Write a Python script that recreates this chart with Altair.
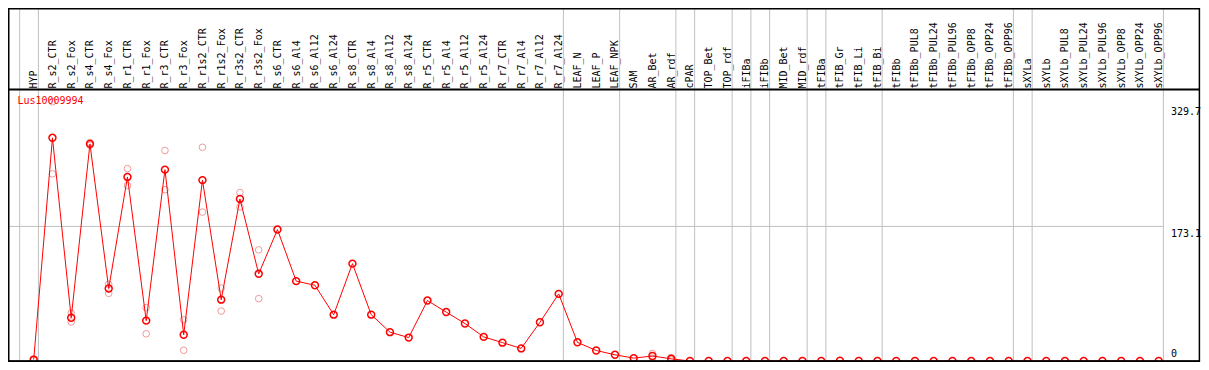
import altair as alt
import pandas as pd

gene = "Lus10009994"

categories = [
    "HYP", "R_s2_CTR", "R_s2_Fox", "R_s4_CTR", "R_s4_Fox", "R_r1_CTR", "R_r1_Fox",
    "R_r3_CTR", "R_r3_Fox", "R_r1s2_CTR", "R_r1s2_Fox", "R_r3s2_CTR", "R_r3s2_Fox",
    "R_s6_CTR", "R_s6_Al4", "R_s6_Al12", "R_s6_Al24", "R_s8_CTR", "R_s8_Al4",
    "R_s8_Al12", "R_s8_Al24", "R_r5_CTR", "R_r5_Al4", "R_r5_Al12", "R_r5_Al24",
    "R_r7_CTR", "R_r7_Al4", "R_r7_Al12", "R_r7_Al24", "LEAF_N", "LEAF_P", "LEAF_NPK",
    "SAM", "AR_Bet", "AR_rdf", "cPAR", "TOP_Bet", "TOP_rdf", "iFIBa", "iFIBb",
    "MID_Bet", "MID_rdf", "tFIBa", "tFIB_Gr", "tFIB_Li", "tFIB_Bi", "tFIBb",
    "tFIBb_PUL8", "tFIBb_PUL24", "tFIBb_PUL96", "tFIBb_OPP8", "tFIBb_OPP24",
    "tFIBb_OPP96", "sXYLa", "sXYLb", "sXYLb_PUL8", "sXYLb_PUL24", "sXYLb_PUL96",
    "sXYLb_OPP8", "sXYLb_OPP24", "sXYLb_OPP96",
]

means = [
    1.8, 287.0, 55.6, 279.2, 93.2, 236.7, 51.9, 246.1, 33.8, 232.6, 78.9, 208.4, 112.1,
    169.0, 102.7, 97.4, 59.6, 125.2, 59.6, 37.1, 30.1, 77.7, 62.9, 48.2, 31.0,
    23.6, 16.2, 49.8, 86.3, 24.0, 13.5, 8.0, 3.7, 6.4, 2.8,
    0, 0, 0, 0, 0, 0, 0, 0, 0.5, 0, 0, 0,
    0, 0, 0, 0, 0, 0, 0, 0, 0, 0, 0, 0, 0, 0,
]

rep_a = [1.2, 333.4, 61.7, 281.0, 98.6, 247.4, 68.6, 270.7, 53.1, 274.8, 93.7, 216.6, 142.9] \
    + [None] * 20 + [9.6, 4.3] + [None] * 26
rep_b = [2.4, 240.7, 50.2, 277.4, 87.0, 225.6, 35.0, 220.3, 13.8, 191.5, 64.2, 198.2, 80.2] \
    + [None] * 20 + [3.7, 1.3] + [None] * 26

group_ends = ["HYP", "R_r7_Al24", "LEAF_NPK", "AR_rdf", "cPAR", "TOP_rdf", "iFIBa",
              "iFIBb", "MID_rdf", "tFIBa", "tFIB_Bi", "tFIBb_OPP96", "sXYLa", "sXYLb_OPP96"]

y_ticks = [0, 173.1, 329.7]

# ---------------------------------------------------------------- tables
W, H = 1155, 271
idx = list(range(len(categories)))
df_mean = pd.DataFrame({"idx": idx, "cat": categories, "value": means})
rows = []
for i, (a, b) in enumerate(zip(rep_a, rep_b)):
    for v in (a, b):
        if v is not None:
            rows.append({"idx": i, "value": v})
df_rep = pd.DataFrame(rows)
df_sep = pd.DataFrame({"idx": [-0.75] + [categories.index(c) + 0.25 for c in group_ends]})
df_grid = pd.DataFrame({"value": [y_ticks[1]]})
df_one = pd.DataFrame({"label": [gene]})

xscale = alt.Scale(domain=[-1.371, 60.23], nice=False, zero=False)
yscale = alt.Scale(domain=[0, 348.5], nice=False, zero=False)

FONT = "DejaVu Sans Mono"
label_expr = "[" + ",".join("'%s'" % c for c in categories) + "][datum.value]"

x_axis = alt.Axis(
    orient="top", values=idx, labelExpr=label_expr, labelAngle=270,
    labelAlign="left", labelBaseline="middle", labelPadding=2, ticks=False,
    domain=False, grid=False, labelFont=FONT, labelFontSize=10, labelColor="black",
    labelOverlap=False, labelBound=False, labelFlush=False, title=None,
)
y_axis = alt.Axis(
    orient="right", values=y_ticks, labelAlign="left",
    labelExpr="datum.value == 0 ? '0' : format(datum.value, '.1f')",
    labelBaseline={"condition": {"test": "datum.value == 0", "value": "bottom"}, "value": "top"},
    labelOffset={"condition": {"test": "datum.value == 0", "value": -3}, "value": 2},
    labelPadding=7.5, ticks=False, domain=False, grid=False, labelFont=FONT,
    labelFontSize=10, labelColor="black", labelOverlap=False, labelFlush=False,
    labelBound=False, title=None,
)

X = alt.X("idx:Q", scale=xscale, axis=x_axis)
Y = alt.Y("value:Q", scale=yscale, axis=y_axis)

sep = alt.Chart(df_sep).mark_rule(color="#c0c0c0", strokeWidth=1).encode(
    x=X, y=alt.value(-82), y2=alt.value(H),
)
grid = alt.Chart(df_grid).mark_rule(color="#c0c0c0", strokeWidth=1).encode(
    y=Y, x=alt.value(0), x2=alt.value(W),
)
reps = alt.Chart(df_rep).mark_point(
    shape="circle", filled=False, size=44, strokeWidth=1, color="#f09a9a", opacity=1, clip=True
).encode(x=X, y=Y)
line = alt.Chart(df_mean).mark_line(color="#ff0000", strokeWidth=1, clip=True).encode(x=X, y=Y)
pts = alt.Chart(df_mean).mark_point(
    shape="circle", filled=False, size=48, strokeWidth=1.5, color="#ff0000", opacity=1, clip=True
).encode(x=X, y=Y)
title = alt.Chart(df_one).mark_text(
    align="left", baseline="top", color="#ff0000", font=FONT, fontSize=10
).encode(x=alt.value(9.4), y=alt.value(6.3), text="label:N")

frame = alt.Chart(df_one).mark_rect(
    fillOpacity=0, stroke="black", strokeWidth=1.5
).encode(x=alt.value(0.75), x2=alt.value(1191.4), y=alt.value(-81.25), y2=alt.value(H + 0.2))
header = alt.Chart(df_one).mark_rule(color="black", strokeWidth=2).encode(
    x=alt.value(0), x2=alt.value(1192), y=alt.value(-0.5)
)
bottom = alt.Chart(df_one).mark_rule(color="black", strokeWidth=2).encode(
    x=alt.value(0), x2=alt.value(1192), y=alt.value(H + 0.2)
)

chart = alt.layer(sep, grid, reps, line, pts, title, frame, header, bottom).properties(
    width=W, height=H,
    padding={"left": 0, "top": 82, "right": 38, "bottom": 1},
    autosize=alt.AutoSizeParams(type="none"),
    background="white",
).configure_view(stroke=None)

chart.save("out.html", embed_options={"renderer": "svg", "actions": False})
